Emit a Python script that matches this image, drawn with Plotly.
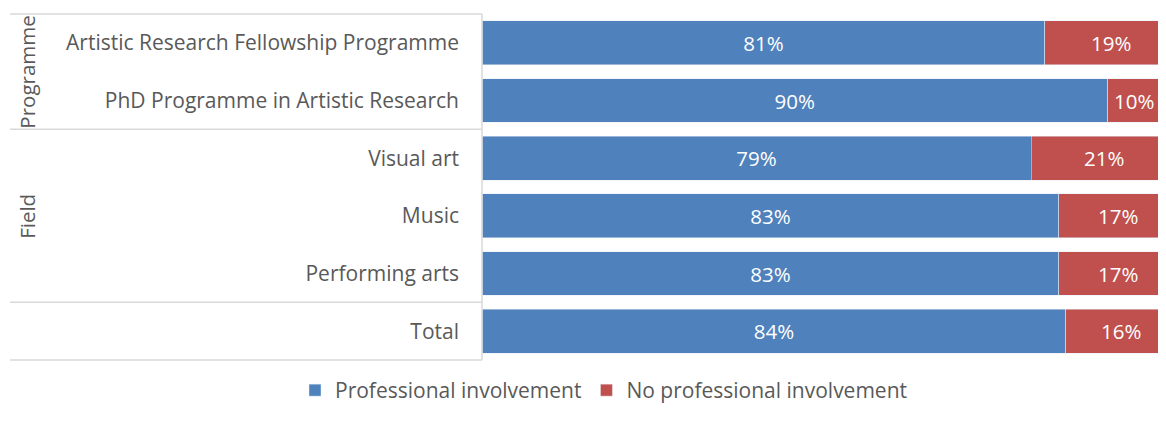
import plotly.graph_objects as go

categorias = [
    "Artistic Research Fellowship Programme",
    "PhD Programme in Artistic Research",
    "Visual art",
    "Music",
    "Performing arts",
    "Total",
]
con_implicacion = [81, 90, 79, 83, 83, 84]
sin_implicacion = [19, 10, 21, 17, 17, 16]

grupos = ["Programme", "Field"]

azul = "#4F81BD"
rojo = "#C0504D"
gris_texto = "#595959"
gris_linea = "#D9D9D9"
fuente = "Open Sans"

# La página tiene 8px de margen en el body: la figura cabe sin barras de scroll
ancho_fig = 1150
alto_fig = 405
izq = 474      # inicio del área de barras (px de la figura)
ancho = ancho_fig - izq
px_por_unidad = 6.95          # 100% ocupa unos 695 px en la referencia
fin_eje = ancho / px_por_unidad

fig = go.Figure()
fig.add_trace(go.Bar(
    y=categorias, x=con_implicacion, orientation="h",
    name="Professional involvement", marker_color=azul,
    text=[f"{v}%" for v in con_implicacion], textposition="inside",
    insidetextanchor="middle", textangle=0,
    textfont=dict(color="white", size=20.5, family=fuente),
))
fig.add_trace(go.Bar(
    y=categorias, x=sin_implicacion, orientation="h",
    name="No professional involvement", marker_color=rojo,
    textposition="none",
))

# Etiquetas del segmento rojo: centradas, pero sin salirse del borde derecho
limite = fin_eje - 24 / px_por_unidad
for cat, c, s in zip(categorias, con_implicacion, sin_implicacion):
    fig.add_annotation(x=min(c + s / 2, limite), y=cat, xref="x", yref="y",
                       text=f"{s}%", showarrow=False,
                       xanchor="center", yanchor="middle",
                       font=dict(color="white", size=20.5, family=fuente))

# Líneas de agrupación a la izquierda
x_izq = (2 - izq) / ancho
for yy in [1, 1 - 2 / 6, 1 / 6, 0]:
    fig.add_shape(type="line", xref="paper", yref="paper",
                  x0=x_izq, x1=0, y0=yy, y1=yy,
                  line=dict(color=gris_linea, width=1.5))
fig.add_shape(type="line", xref="paper", yref="paper",
              x0=0, x1=0, y0=0, y1=1,
              line=dict(color=gris_linea, width=1.5))

# Etiquetas de grupo giradas
x_grupo = (19 - izq) / ancho
fig.add_annotation(text=grupos[0], xref="paper", yref="paper",
                   x=x_grupo, y=1 - 1 / 6, textangle=-90, showarrow=False,
                   xanchor="center", yanchor="middle",
                   font=dict(size=20.5, color=gris_texto, family=fuente))
fig.add_annotation(text=grupos[1], xref="paper", yref="paper",
                   x=x_grupo, y=1 - 3.5 / 6, textangle=-90, showarrow=False,
                   xanchor="center", yanchor="middle",
                   font=dict(size=20.5, color=gris_texto, family=fuente))

fig.update_layout(
    barmode="stack",
    bargap=0.24,
    width=ancho_fig, height=alto_fig,
    margin=dict(l=izq, r=0, t=6, b=53, autoexpand=False),
    plot_bgcolor="white",
    paper_bgcolor="white",
    font=dict(family=fuente, color=gris_texto, size=21),
    showlegend=True,
    legend=dict(orientation="h", traceorder="normal",
                x=596 / ancho_fig, xanchor="center", xref="container",
                y=2 / alto_fig, yanchor="bottom", yref="container",
                font=dict(size=21, color=gris_texto), itemwidth=30),
    xaxis=dict(range=[0, fin_eje], showgrid=False, showticklabels=False,
               zeroline=False, showline=False, fixedrange=True),
    yaxis=dict(autorange="reversed", showgrid=False, showline=False,
               ticks="", ticklabelstandoff=22, automargin=False,
               tickfont=dict(size=21, color=gris_texto, family=fuente)),
)

fig.write_html("out.html")
